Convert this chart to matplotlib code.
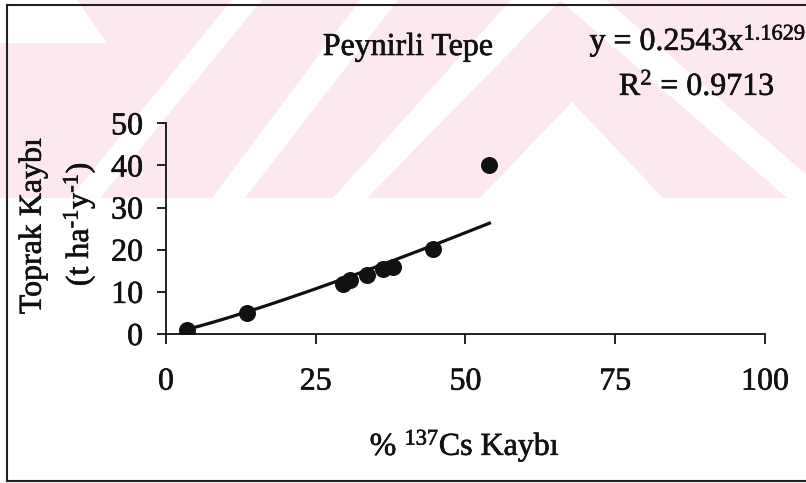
import numpy as np
import matplotlib
matplotlib.use("Agg")
import matplotlib.pyplot as plt
import matplotlib.patheffects as pe
from matplotlib.patches import Polygon, Rectangle
from matplotlib.lines import Line2D

# ---------------- data ----------------
cs_loss = [3.5, 13.6, 29.6, 30.8, 33.5, 36.2, 37.9, 44.5, 54.0]      # % 137Cs loss
soil_loss = [1.0, 5.0, 11.9, 12.7, 13.9, 15.5, 16.0, 20.2, 40.2]     # t ha-1 y-1
fit_coef = 0.2543
fit_exp = 1.1629
r_squared = 0.9713
x_ticks = [0, 25, 50, 75, 100]
y_ticks = [0, 10, 20, 30, 40, 50]
title_text = "Peynirli Tepe"
xlabel_text = "% $^{137}$Cs Kaybı"
ylabel_line1 = "Toprak Kaybı"
ylabel_line2 = r"(t ha$^{\text{-1}}$y$^{\text{-1}}$)"

# ---------------- style ----------------
plt.rcParams["font.family"] = ["Liberation Serif", "DejaVu Serif"]
plt.rcParams["mathtext.fontset"] = "custom"
plt.rcParams["mathtext.rm"] = "Liberation Serif"
plt.rcParams["mathtext.it"] = "Liberation Serif"
plt.rcParams["mathtext.default"] = "regular"

W, H, DPI = 806, 483, 100
FS = 23
INK = "#111111"
PINK = "#fde9ed"
THICK = [pe.withStroke(linewidth=0.45, foreground=INK)]

fig = plt.figure(figsize=(W / DPI, H / DPI), dpi=DPI)
fig.patch.set_facecolor("white")


def fx(px):
    return px / W


def fy(py):
    return 1 - py / H


def poly(pts, color, z=-10):
    p = Polygon([(fx(a), fy(b)) for a, b in pts], closed=True,
                transform=fig.transFigure, facecolor=color,
                edgecolor="none", zorder=z)
    fig.add_artist(p)


# ---------------- watermark (scan background) ----------------
band = Rectangle((0, fy(198)), 1, 198 / H, transform=fig.transFigure,
                 facecolor=PINK, edgecolor="none", zorder=-11)
fig.add_artist(band)
poly([(0, 0), (77, 0), (107, 43), (0, 43)], "white")
poly([(70, 198), (100, 198), (262, 0), (232, 0)], "white")
poly([(212, 198), (245, 198), (398, 0), (360, 0)], "white")
poly([(333, 198), (367, 198), (561, 0), (511, 0)], "white")
poly([(560, 0), (606, 0), (833, 198), (787, 198)], "white")
poly([(480, 198), (572, 102), (663, 198)], "white")

# ---------------- axes ----------------
ax_left, ax_right, ax_bottom, ax_top = 166, 765, 334, 123.3
ax = fig.add_axes([fx(ax_left), fy(ax_bottom), (ax_right - ax_left) / W,
                   (ax_bottom - ax_top) / H])
ax.set_facecolor("none")

ax.scatter(cs_loss, soil_loss, s=150, color=INK, zorder=3, linewidths=0)
x_fit = np.linspace(min(cs_loss), max(cs_loss), 200)
ax.plot(x_fit, fit_coef * x_fit ** fit_exp, color=INK, lw=2.3, zorder=2)

ax.set_xlim(x_ticks[0], x_ticks[-1])
ax.set_ylim(y_ticks[0], y_ticks[-1])
ax.set_xticks(x_ticks)
ax.set_yticks(y_ticks)
ax.set_xticklabels([str(v) for v in x_ticks])
ax.set_yticklabels([str(v) for v in y_ticks])

for side in ("top", "right"):
    ax.spines[side].set_visible(False)
for side in ("left", "bottom"):
    ax.spines[side].set_linewidth(1.3)
    ax.spines[side].set_color(INK)

ax.tick_params(axis="x", direction="out", length=7.2, width=1.3, pad=17,
               labelsize=FS, colors=INK)
ax.tick_params(axis="y", direction="out", length=6.5, width=1.3, pad=10,
               labelsize=FS, colors=INK)
for lab in ax.get_xticklabels() + ax.get_yticklabels():
    lab.set_path_effects(THICK)

# ---------------- texts ----------------
tkw = dict(fontsize=FS, color=INK, path_effects=THICK)
fig.text(fx(408), fy(55), title_text, ha="center", va="baseline", **tkw)
fig.text(fx(698), fy(50), "y = %.4fx$^{%.4f}$" % (fit_coef, fit_exp),
         ha="center", va="baseline", **tkw)
fig.text(fx(697), fy(95), "R$^{2}$ = %.4f" % r_squared,
         ha="center", va="baseline", **tkw)
fig.text(fx(465), fy(455), xlabel_text, ha="center", va="baseline", **tkw)
fig.text(fx(33), fy(226), ylabel_line1, ha="center", va="center",
         rotation=90, **tkw)
fig.text(fx(79), fy(224), ylabel_line2, ha="center", va="center",
         rotation=90, **tkw)

# ---------------- outer frame ----------------
frame_kw = dict(transform=fig.transFigure, color="#222222", lw=1.5, zorder=20)
fig.add_artist(Line2D([fx(7), fx(7)], [fy(5), fy(481)], **frame_kw))
fig.add_artist(Line2D([fx(7), 1], [fy(5), fy(5)], **frame_kw))
fig.add_artist(Line2D([fx(7), 1], [fy(481), fy(481)], **frame_kw))

fig.savefig("out.png", dpi=DPI)
